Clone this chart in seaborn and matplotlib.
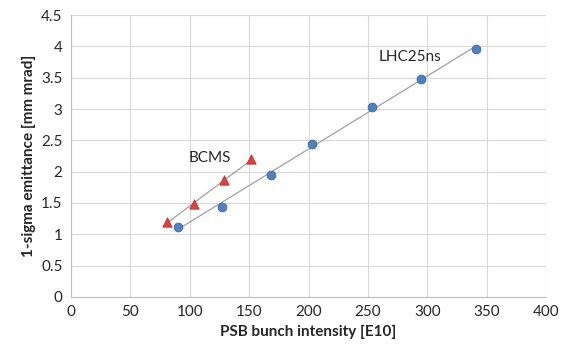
import matplotlib
matplotlib.use("Agg")
import matplotlib.pyplot as plt
import numpy as np
import seaborn as sns
from matplotlib.ticker import FuncFormatter

# LHC25ns beam (blue circles)
lhc_intensity = [90, 127, 168, 203, 253, 294.5, 341]
lhc_emittance = [1.12, 1.44, 1.94, 2.44, 3.04, 3.48, 3.96]

# BCMS beam (red triangles)
bcms_intensity = [81, 104, 129, 152]
bcms_emittance = [1.20, 1.48, 1.86, 2.20]

sns.set_style("white")
plt.rcParams["font.family"] = ["Lato", "DejaVu Sans"]

fig, ax = plt.subplots(figsize=(5.62, 3.59), dpi=100)
fig.subplots_adjust(left=0.126, right=0.972, bottom=0.173, top=0.958)

line_kws = {"color": "#a0a0a0", "linewidth": 0.9, "zorder": 2}
sns.regplot(x=lhc_intensity, y=lhc_emittance, ax=ax, ci=None, scatter=False,
            line_kws=line_kws)
sns.regplot(x=bcms_intensity, y=bcms_emittance, ax=ax, ci=None, scatter=False,
            line_kws=line_kws)

sns.scatterplot(x=lhc_intensity, y=lhc_emittance, ax=ax, marker="o", s=40,
                color="#4f81bd", edgecolor="#3a6aa8", linewidth=0.6, zorder=3)
sns.scatterplot(x=bcms_intensity, y=bcms_emittance, ax=ax, marker="^", s=45,
                color="#d9423e", edgecolor="#c0302c", linewidth=0.6, zorder=3)

ax.text(117, 2.22, "BCMS", fontsize=11, ha="center", va="center")
ax.text(285, 3.83, "LHC25ns", fontsize=11, ha="center", va="center")

ax.set_xlim(0, 400)
ax.set_ylim(0, 4.5)
ax.set_xticks(np.arange(0, 401, 50))
ax.set_yticks(np.arange(0, 4.51, 0.5))
ax.yaxis.set_major_formatter(FuncFormatter(lambda v, _: f"{v:g}"))
ax.tick_params(labelsize=11, length=0, pad=6)
ax.grid(True, color="#d9d9d9", linewidth=0.8)
ax.set_axisbelow(True)
for side in ["top", "right"]:
    ax.spines[side].set_visible(False)
for side in ["left", "bottom"]:
    ax.spines[side].set_color("#bfbfbf")
    ax.spines[side].set_linewidth(0.8)

ax.set_xlabel("PSB bunch intensity [E10]", fontsize=11, fontweight="bold")
ax.set_ylabel("1-sigma emittance [mm mrad]", fontsize=11, fontweight="bold")

fig.savefig("out.png", dpi=100)
